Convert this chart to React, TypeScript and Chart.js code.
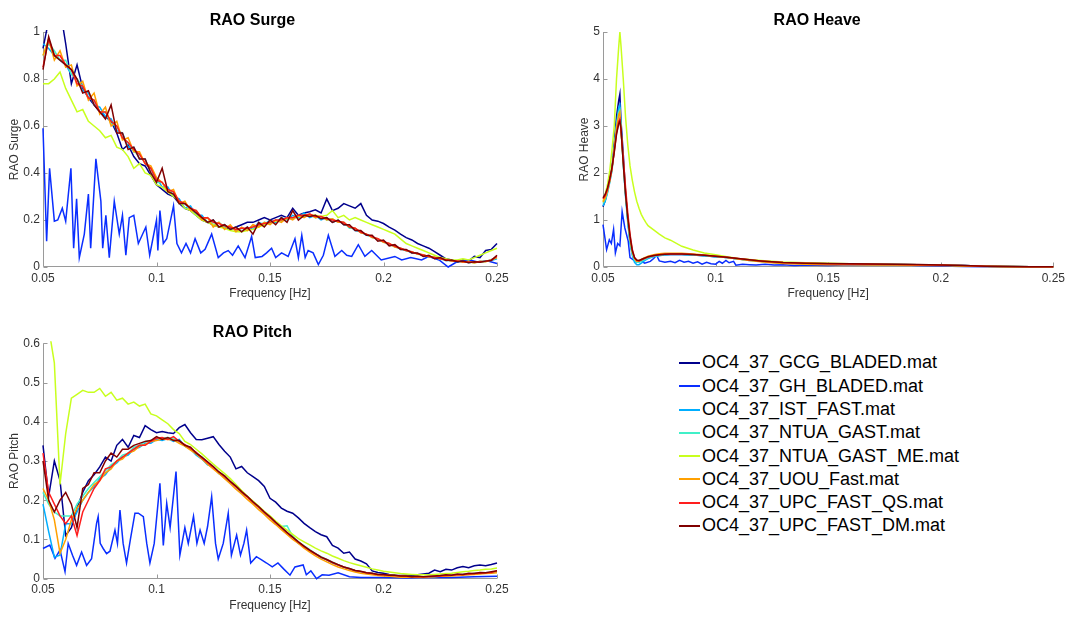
import React, { useEffect, useRef } from "react";
import { Chart, registerables } from "chart.js";

Chart.register(...registerables);
Chart.defaults.font.family = '"Liberation Sans", Arial, sans-serif';

// ---------------- shared labels ----------------
const seriesNames = [
  "OC4_37_GCG_BLADED.mat",
  "OC4_37_GH_BLADED.mat",
  "OC4_37_IST_FAST.mat",
  "OC4_37_NTUA_GAST.mat",
  "OC4_37_NTUA_GAST_ME.mat",
  "OC4_37_UOU_Fast.mat",
  "OC4_37_UPC_FAST_QS.mat",
  "OC4_37_UPC_FAST_DM.mat",
];
const seriesColors = ["#00008C", "#0A2EFF", "#00AEFF", "#40F0C8", "#C8FF1E", "#FFA000", "#FF1E1E", "#800000"];

const xTicks = [0.05, 0.1, 0.15, 0.2, 0.25];
const xTickLabels = ["0.05", "0.1", "0.15", "0.2", "0.25"];
const surgeYTicks = [0, 0.2, 0.4, 0.6, 0.8, 1];
const surgeYTickLabels = ["0", "0.2", "0.4", "0.6", "0.8", "1"];
const heaveYTicks = [0, 1, 2, 3, 4, 5];
const heaveYTickLabels = ["0", "1", "2", "3", "4", "5"];
const pitchYTicks = [0, 0.1, 0.2, 0.3, 0.4, 0.5, 0.6];
const pitchYTickLabels = ["0", "0.1", "0.2", "0.3", "0.4", "0.5", "0.6"];

// ---------------- frequency grids ----------------
const freq = [
  0.05, 0.0525, 0.055, 0.0575, 0.06, 0.0625, 0.065, 0.0675, 0.07, 0.0725,
  0.075, 0.0775, 0.08, 0.0825, 0.085, 0.0875, 0.09, 0.0925, 0.095, 0.0975,
  0.1, 0.1025, 0.105, 0.1075, 0.11, 0.1125, 0.115, 0.1175, 0.12, 0.1225,
  0.125, 0.1275, 0.13, 0.1325, 0.135, 0.1375, 0.14, 0.1425, 0.145, 0.1475,
  0.15, 0.1525, 0.155, 0.1575, 0.16, 0.1625, 0.165, 0.1675, 0.17, 0.1725,
  0.175, 0.1775, 0.18, 0.1825, 0.185, 0.1875, 0.19, 0.1925, 0.195, 0.1975,
  0.2, 0.2025, 0.205, 0.2075, 0.21, 0.2125, 0.215, 0.2175, 0.22, 0.2225,
  0.225, 0.2275, 0.23, 0.2325, 0.235, 0.2375, 0.24, 0.2425, 0.245, 0.2475,
  0.25,
];
const heaveFreq = [
  0.05, 0.051, 0.052, 0.053, 0.054, 0.055, 0.056, 0.057, 0.0575, 0.058,
  0.059, 0.06, 0.061, 0.062, 0.063, 0.064, 0.065, 0.066, 0.067, 0.068,
  0.069, 0.07, 0.0725, 0.075, 0.0775, 0.08, 0.085, 0.09, 0.095, 0.1,
  0.105, 0.11, 0.115, 0.12, 0.125, 0.13, 0.14, 0.15, 0.16, 0.17,
  0.18, 0.19, 0.2, 0.21, 0.22, 0.23, 0.24, 0.25,
];

// ---------------- RAO Surge ----------------
const surgeGCG = [
  0.93, 1.05, 1.08, 1.1, 0.95, 0.78, 0.86, 0.76, 0.72, 0.69,
  0.66, 0.64, 0.62, 0.57, 0.5, 0.52, 0.47, 0.44, 0.43, 0.39,
  0.35, 0.33, 0.31, 0.3, 0.27, 0.25, 0.24, 0.22, 0.2, 0.19,
  0.18, 0.17, 0.17, 0.16, 0.17, 0.18, 0.19, 0.19, 0.2, 0.21,
  0.2, 0.21, 0.22, 0.21, 0.25, 0.22, 0.23, 0.235, 0.243, 0.23,
  0.29, 0.24, 0.25, 0.27, 0.26, 0.25, 0.27, 0.22, 0.2, 0.195,
  0.185, 0.17, 0.157, 0.14, 0.125, 0.115, 0.1, 0.09, 0.08, 0.065,
  0.05, 0.035, 0.03, 0.02, 0.03, 0.025, 0.045, 0.04, 0.07, 0.075,
  0.1,
];
const surgeGHFreq = [
  0.05, 0.0516, 0.0529, 0.055, 0.0565, 0.0585, 0.06, 0.0623, 0.0635, 0.0648,
  0.066, 0.0682, 0.07, 0.071, 0.0733, 0.0755, 0.0763, 0.0777, 0.0792, 0.0814,
  0.0836, 0.085, 0.0865, 0.088, 0.09, 0.092, 0.0953, 0.097, 0.1, 0.1006,
  0.1015, 0.103, 0.1045, 0.1075, 0.109, 0.111, 0.113, 0.115, 0.117, 0.1195,
  0.1214, 0.1243, 0.1272, 0.1295, 0.1316, 0.1335, 0.136, 0.139, 0.1419, 0.1435,
  0.1465, 0.1485, 0.1507, 0.1525, 0.1551, 0.158, 0.161, 0.1625, 0.164, 0.1655,
  0.1668, 0.169, 0.1713, 0.1735, 0.1757, 0.1786, 0.1816, 0.1838, 0.186, 0.1889,
  0.1918, 0.1948, 0.199, 0.205, 0.208, 0.212, 0.2168, 0.22, 0.2245, 0.2285,
  0.232, 0.2344, 0.238, 0.242, 0.246, 0.25,
];
const surgeGH = [
  0.59, 0.11, 0.42, 0.195, 0.2, 0.25, 0.195, 0.42, 0.08, 0.29,
  0.04, 0.14, 0.31, 0.08, 0.46, 0.28, 0.08, 0.22, 0.04, 0.28,
  0.14, 0.22, 0.05, 0.21, 0.22, 0.1, 0.17, 0.05, 0.2, 0.07,
  0.24, 0.1, 0.12, 0.26, 0.1, 0.06, 0.1, 0.06, 0.12, 0.06,
  0.075, 0.14, 0.04, 0.06, 0.07, 0.05, 0.09, 0.04, 0.13, 0.04,
  0.045, 0.06, 0.08, 0.04, 0.06, 0.045, 0.12, 0.04, 0.135, 0.04,
  0.07, 0.06, 0.01, 0.05, 0.135, 0.045, 0.07, 0.05, 0.045, 0.095,
  0.045, 0.07, 0.03, 0.045, 0.03, 0.04, 0.03, 0.045, 0.03, 0.0,
  0.02, 0.025, 0.03, 0.02, 0.025, 0.015,
];
const surgeIST = [
  0.95, 0.93, 0.9, 0.88, 0.86, 0.82, 0.8, 0.75, 0.74, 0.69,
  0.68, 0.64, 0.63, 0.58, 0.57, 0.51, 0.51, 0.46, 0.46, 0.4,
  0.38, 0.34, 0.34, 0.3, 0.29, 0.25, 0.26, 0.22, 0.22, 0.19,
  0.2, 0.17, 0.18, 0.16, 0.17, 0.15, 0.17, 0.16, 0.19, 0.18,
  0.2, 0.19, 0.21, 0.2, 0.22, 0.21, 0.23, 0.21, 0.22, 0.2,
  0.21, 0.19, 0.2, 0.18, 0.175, 0.155, 0.15, 0.135, 0.13, 0.115,
  0.11, 0.095, 0.09, 0.075, 0.072, 0.06, 0.058, 0.048, 0.046, 0.038,
  0.036, 0.028, 0.028, 0.022, 0.024, 0.018, 0.022, 0.02, 0.027, 0.028,
  0.035,
];
const surgeNTUA = [
  0.9, 0.95, 0.92, 0.88, 0.88, 0.82, 0.8, 0.77, 0.72, 0.71,
  0.66, 0.66, 0.61, 0.6, 0.55, 0.53, 0.49, 0.48, 0.44, 0.42,
  0.36, 0.36, 0.32, 0.32, 0.27, 0.27, 0.24, 0.24, 0.2, 0.21,
  0.18, 0.19, 0.17, 0.17, 0.155, 0.165, 0.16, 0.175, 0.175, 0.19,
  0.185, 0.2, 0.195, 0.21, 0.205, 0.22, 0.215, 0.225, 0.21, 0.215,
  0.2, 0.205, 0.19, 0.19, 0.165, 0.165, 0.145, 0.14, 0.125, 0.12,
  0.105, 0.1, 0.085, 0.08, 0.068, 0.065, 0.054, 0.052, 0.043, 0.042,
  0.033, 0.032, 0.025, 0.026, 0.02, 0.022, 0.018, 0.024, 0.023, 0.032,
  0.038,
];
const surgeME = [
  0.78, 0.78, 0.8, 0.83, 0.76, 0.71, 0.66, 0.67, 0.62, 0.6,
  0.58, 0.55, 0.56, 0.51, 0.5, 0.47, 0.42, 0.44, 0.4, 0.39,
  0.35, 0.34, 0.32, 0.3, 0.28, 0.25, 0.24, 0.22, 0.2, 0.19,
  0.18, 0.17, 0.165, 0.155, 0.15, 0.15, 0.155, 0.16, 0.17, 0.18,
  0.19, 0.195, 0.2, 0.205, 0.21, 0.215, 0.22, 0.22, 0.22, 0.215,
  0.22, 0.24, 0.21, 0.22, 0.2, 0.21, 0.2, 0.19, 0.18, 0.17,
  0.16, 0.15, 0.14, 0.12, 0.1, 0.09, 0.08, 0.07, 0.06, 0.05,
  0.04, 0.035, 0.03, 0.03, 0.035, 0.03, 0.04, 0.05, 0.06, 0.07,
  0.08,
];
const surgeUOU = [
  0.9, 0.97, 0.88, 0.92, 0.85, 0.86, 0.77, 0.79, 0.71, 0.74,
  0.65, 0.68, 0.6, 0.62, 0.54, 0.55, 0.49, 0.49, 0.44, 0.43,
  0.38, 0.36, 0.32, 0.33, 0.27, 0.28, 0.24, 0.24, 0.2, 0.21,
  0.17, 0.19, 0.16, 0.18, 0.15, 0.17, 0.155, 0.18, 0.17, 0.19,
  0.18, 0.2, 0.19, 0.21, 0.2, 0.22, 0.21, 0.225, 0.21, 0.215,
  0.2, 0.205, 0.19, 0.19, 0.17, 0.165, 0.145, 0.14, 0.125, 0.12,
  0.105, 0.1, 0.085, 0.08, 0.07, 0.065, 0.055, 0.052, 0.044, 0.042,
  0.034, 0.031, 0.026, 0.026, 0.02, 0.022, 0.017, 0.023, 0.022, 0.03,
  0.04,
];
const surgeQS = [
  0.85, 0.97, 0.9, 0.9, 0.86, 0.84, 0.78, 0.77, 0.72, 0.71,
  0.66, 0.66, 0.62, 0.6, 0.55, 0.53, 0.5, 0.48, 0.44, 0.42,
  0.37, 0.36, 0.33, 0.32, 0.28, 0.27, 0.25, 0.24, 0.21, 0.21,
  0.19, 0.185, 0.175, 0.17, 0.16, 0.165, 0.165, 0.17, 0.18, 0.185,
  0.19, 0.2, 0.2, 0.21, 0.21, 0.22, 0.22, 0.225, 0.215, 0.215,
  0.205, 0.2, 0.195, 0.19, 0.17, 0.165, 0.148, 0.14, 0.128, 0.12,
  0.108, 0.1, 0.088, 0.08, 0.07, 0.064, 0.056, 0.051, 0.045, 0.04,
  0.035, 0.031, 0.027, 0.026, 0.022, 0.021, 0.02, 0.023, 0.025, 0.03,
  0.045,
];
const surgeDM = [
  0.84, 0.98, 0.9, 0.88, 0.86, 0.84, 0.8, 0.74, 0.75, 0.69,
  0.66, 0.63, 0.69, 0.57, 0.57, 0.5, 0.51, 0.46, 0.46, 0.4,
  0.36, 0.42, 0.32, 0.31, 0.27, 0.27, 0.25, 0.23, 0.21, 0.19,
  0.2, 0.17, 0.18, 0.16, 0.17, 0.15, 0.17, 0.14, 0.19, 0.17,
  0.2, 0.18, 0.21, 0.19, 0.24, 0.2, 0.22, 0.215, 0.22, 0.205,
  0.21, 0.19, 0.2, 0.18, 0.18, 0.155, 0.155, 0.135, 0.135, 0.11,
  0.115, 0.09, 0.095, 0.075, 0.075, 0.06, 0.06, 0.045, 0.05, 0.035,
  0.04, 0.028, 0.03, 0.022, 0.025, 0.018, 0.022, 0.02, 0.025, 0.028,
  0.05,
];

// ---------------- RAO Heave ----------------
const heaveGCG = [
  1.28, 1.42, 1.62, 1.85, 2.1, 2.65, 3.2, 3.55, 3.68, 3.1,
  2.4, 1.6, 1.0, 0.55, 0.3, 0.16, 0.12, 0.11, 0.13, 0.15,
  0.18, 0.2, 0.23, 0.25, 0.26, 0.265, 0.265, 0.255, 0.24, 0.22,
  0.2, 0.17, 0.15, 0.12, 0.1, 0.09, 0.08, 0.07, 0.065, 0.06,
  0.055, 0.05, 0.04, 0.03, 0.015, 0.01, 0.005, 0.005,
];
const heaveGHFreq = [
  0.05, 0.0516, 0.0528, 0.0537, 0.0547, 0.0555, 0.0565, 0.0575, 0.0585, 0.0597,
  0.0612, 0.062, 0.0635, 0.065, 0.0665, 0.0685, 0.071, 0.0725, 0.0738, 0.075,
  0.0775, 0.08, 0.082, 0.084, 0.086, 0.088, 0.09, 0.092, 0.094, 0.096,
  0.098, 0.1, 0.1016, 0.103, 0.1046, 0.106, 0.108, 0.109, 0.112, 0.115,
  0.118, 0.122, 0.126, 0.13, 0.135, 0.14, 0.15, 0.16, 0.17, 0.18,
  0.19, 0.2, 0.21, 0.22, 0.25,
];
const heaveGH = [
  0.9, 0.37, 0.58, 0.5, 0.8, 0.3, 0.5, 0.45, 1.18, 0.83,
  0.55, 0.2, 0.15, 0.1, 0.14, 0.08, 0.12, 0.18, 0.25, 0.13,
  0.1, 0.12, 0.09, 0.14, 0.1, 0.12, 0.08, 0.11, 0.06, 0.1,
  0.07, 0.06, 0.12, 0.08, 0.14, 0.09, 0.12, 0.04, 0.06, 0.05,
  0.04, 0.06, 0.04, 0.05, 0.03, 0.04, 0.03, 0.05, 0.04, 0.05,
  0.03, 0.02, 0.01, 0.005, 0.005,
];
const heaveIST = [
  1.3, 1.4, 1.58, 1.8, 2.05, 2.55, 3.05, 3.4, 3.45, 3.0,
  2.2, 1.5, 0.95, 0.5, 0.25, 0.1, 0.05, 0.05, 0.08, 0.12,
  0.15, 0.18, 0.22, 0.24, 0.26, 0.265, 0.265, 0.255, 0.24, 0.22,
  0.2, 0.17, 0.14, 0.12, 0.1, 0.09, 0.075, 0.07, 0.065, 0.06,
  0.055, 0.05, 0.04, 0.03, 0.015, 0.01, 0.005, 0.005,
];
const heaveNTUA = [
  1.35, 1.45, 1.6, 1.82, 2.08, 2.5, 3.0, 3.3, 3.35, 2.95,
  2.2, 1.55, 1.0, 0.55, 0.28, 0.15, 0.1, 0.1, 0.12, 0.15,
  0.17, 0.2, 0.23, 0.25, 0.265, 0.27, 0.27, 0.26, 0.245, 0.225,
  0.2, 0.17, 0.15, 0.12, 0.1, 0.09, 0.08, 0.07, 0.065, 0.06,
  0.055, 0.05, 0.04, 0.03, 0.015, 0.01, 0.005, 0.005,
];
const heaveME = [
  1.4, 1.55, 1.75, 2.05, 2.5, 3.0, 4.0, 4.7, 5.0, 4.7,
  4.0, 3.2, 2.6, 2.15, 1.85, 1.6, 1.4, 1.25, 1.12, 1.03,
  0.95, 0.88, 0.79, 0.7, 0.62, 0.57, 0.44, 0.36, 0.3, 0.26,
  0.22, 0.18, 0.16, 0.14, 0.12, 0.105, 0.09, 0.08, 0.07, 0.06,
  0.055, 0.05, 0.04, 0.025, 0.015, 0.01, 0.005, 0.005,
];
const heaveUOU = [
  1.38, 1.47, 1.62, 1.83, 2.08, 2.5, 2.95, 3.25, 3.3, 2.9,
  2.25, 1.6, 1.05, 0.6, 0.32, 0.18, 0.12, 0.13, 0.16, 0.19,
  0.21, 0.23, 0.26, 0.28, 0.29, 0.295, 0.29, 0.275, 0.255, 0.23,
  0.2, 0.17, 0.14, 0.11, 0.09, 0.075, 0.06, 0.05, 0.05, 0.045,
  0.04, 0.035, 0.03, 0.02, 0.01, 0.005, 0.005, 0.005,
];
const heaveQS = [
  1.45, 1.52, 1.65, 1.85, 2.1, 2.45, 2.85, 3.1, 3.15, 2.9,
  2.3, 1.7, 1.15, 0.7, 0.38, 0.2, 0.14, 0.13, 0.15, 0.17,
  0.19, 0.21, 0.24, 0.26, 0.27, 0.275, 0.275, 0.265, 0.25, 0.23,
  0.205, 0.18, 0.155, 0.13, 0.11, 0.095, 0.08, 0.07, 0.065, 0.06,
  0.055, 0.05, 0.04, 0.03, 0.015, 0.01, 0.005, 0.005,
];
const heaveDM = [
  1.47, 1.55, 1.68, 1.88, 2.12, 2.45, 2.82, 3.05, 3.1, 2.95,
  2.2, 1.55, 1.05, 0.65, 0.35, 0.2, 0.15, 0.14, 0.16, 0.18,
  0.2, 0.22, 0.245, 0.26, 0.27, 0.275, 0.275, 0.265, 0.25, 0.23,
  0.205, 0.18, 0.155, 0.13, 0.11, 0.095, 0.08, 0.075, 0.07, 0.065,
  0.06, 0.055, 0.045, 0.03, 0.015, 0.01, 0.005, 0.005,
];

// ---------------- RAO Pitch ----------------
const pitchGCG = [
  0.34, 0.21, 0.3, 0.25, 0.11, 0.13, 0.18, 0.22, 0.25, 0.265,
  0.285, 0.31, 0.3, 0.34, 0.355, 0.335, 0.365, 0.36, 0.39, 0.38,
  0.372, 0.375, 0.372, 0.37, 0.385, 0.393, 0.372, 0.355, 0.354, 0.358,
  0.362, 0.342, 0.325, 0.31, 0.28, 0.286, 0.27, 0.26, 0.25, 0.235,
  0.205, 0.195, 0.18, 0.172, 0.167, 0.155, 0.141, 0.13, 0.12, 0.112,
  0.107, 0.085, 0.078, 0.065, 0.068, 0.05, 0.045, 0.038, 0.02, 0.016,
  0.014, 0.011, 0.009, 0.008, 0.009, 0.008, 0.01, 0.012, 0.014, 0.022,
  0.018, 0.024, 0.022, 0.028, 0.031, 0.028, 0.033, 0.035, 0.033, 0.036,
  0.04,
];
const pitchGHFreq = [
  0.05, 0.053, 0.0553, 0.0575, 0.0597, 0.0611, 0.063, 0.0648, 0.067, 0.0692,
  0.0714, 0.0736, 0.0743, 0.0752, 0.0765, 0.078, 0.0795, 0.0817, 0.0828, 0.0839,
  0.0853, 0.0868, 0.0885, 0.0905, 0.092, 0.0942, 0.0957, 0.0971, 0.099, 0.1015,
  0.103, 0.1045, 0.106, 0.1086, 0.1103, 0.1125, 0.114, 0.1163, 0.1178, 0.1192,
  0.121, 0.1225, 0.1243, 0.126, 0.1272, 0.1294, 0.1316, 0.133, 0.1353, 0.137,
  0.1385, 0.1397, 0.1415, 0.144, 0.1463, 0.1485, 0.151, 0.1535, 0.156, 0.1588,
  0.161, 0.1646, 0.166, 0.168, 0.1705, 0.173, 0.176, 0.18, 0.185, 0.19,
  0.2, 0.21, 0.22, 0.23, 0.24, 0.25,
];
const pitchGH = [
  0.077, 0.086, 0.052, 0.073, 0.018, 0.09, 0.06, 0.034, 0.068, 0.034,
  0.051, 0.141, 0.158, 0.09, 0.077, 0.064, 0.07, 0.124, 0.09, 0.175,
  0.09, 0.04, 0.1, 0.167, 0.167, 0.158, 0.09, 0.04, 0.09, 0.243,
  0.085, 0.192, 0.13, 0.273, 0.06, 0.13, 0.09, 0.159, 0.09, 0.124,
  0.09, 0.133, 0.209, 0.09, 0.05, 0.09, 0.167, 0.06, 0.111, 0.06,
  0.09, 0.124, 0.04, 0.056, 0.048, 0.04, 0.03, 0.04, 0.025, 0.009,
  0.03, 0.035, 0.01, 0.02, 0.0, 0.01, 0.009, 0.015, 0.005, 0.003,
  0.003, 0.002, 0.004, 0.003, 0.005, 0.006,
];
const pitchIST = [
  0.19, 0.12, 0.055, 0.06, 0.14, 0.14, 0.17, 0.2, 0.22, 0.235,
  0.255, 0.265, 0.285, 0.295, 0.31, 0.315, 0.33, 0.335, 0.345, 0.345,
  0.355, 0.352, 0.357, 0.35, 0.355, 0.338, 0.33, 0.315, 0.305, 0.29,
  0.285, 0.268, 0.26, 0.245, 0.235, 0.218, 0.21, 0.192, 0.183, 0.166,
  0.157, 0.14, 0.13, 0.114, 0.106, 0.09, 0.083, 0.07, 0.064, 0.053,
  0.048, 0.04, 0.035, 0.029, 0.025, 0.02, 0.018, 0.014, 0.013, 0.01,
  0.01, 0.008, 0.008, 0.006, 0.006, 0.004, 0.005, 0.004, 0.005, 0.005,
  0.007, 0.007, 0.009, 0.009, 0.011, 0.011, 0.013, 0.013, 0.015, 0.015,
  0.017,
];
const pitchNTUA = [
  0.22, 0.19, 0.17, 0.16, 0.16, 0.16, 0.19, 0.21, 0.23, 0.245,
  0.26, 0.275, 0.29, 0.3, 0.315, 0.32, 0.335, 0.34, 0.35, 0.352,
  0.36, 0.358, 0.36, 0.356, 0.35, 0.34, 0.332, 0.32, 0.31, 0.296,
  0.286, 0.272, 0.262, 0.246, 0.236, 0.22, 0.21, 0.194, 0.184, 0.168,
  0.158, 0.142, 0.133, 0.135, 0.108, 0.094, 0.084, 0.074, 0.064, 0.056,
  0.049, 0.042, 0.036, 0.03, 0.026, 0.021, 0.018, 0.015, 0.013, 0.011,
  0.01, 0.009, 0.008, 0.007, 0.006, 0.005, 0.005, 0.005, 0.005, 0.006,
  0.007, 0.008, 0.009, 0.01, 0.011, 0.012, 0.013, 0.014, 0.015, 0.016,
  0.017,
];
const pitchME = [
  0.72, 0.64, 0.55, 0.24, 0.37, 0.46, 0.47, 0.48, 0.475, 0.475,
  0.485, 0.465, 0.475, 0.455, 0.46, 0.445, 0.45, 0.44, 0.445, 0.42,
  0.415, 0.405, 0.395, 0.38, 0.37, 0.35, 0.342, 0.33, 0.318, 0.305,
  0.292, 0.28, 0.268, 0.255, 0.24, 0.225, 0.21, 0.198, 0.185, 0.172,
  0.16, 0.147, 0.135, 0.124, 0.113, 0.102, 0.094, 0.086, 0.078, 0.071,
  0.065, 0.058, 0.052, 0.046, 0.041, 0.037, 0.033, 0.029, 0.025, 0.022,
  0.019, 0.017, 0.015, 0.013, 0.012, 0.011, 0.01, 0.01, 0.01, 0.011,
  0.012, 0.013, 0.014, 0.016, 0.018, 0.019, 0.021, 0.022, 0.024, 0.025,
  0.027,
];
const pitchUOU = [
  0.23, 0.2, 0.15, 0.065, 0.1, 0.15, 0.18, 0.2, 0.22, 0.24,
  0.25, 0.27, 0.28, 0.3, 0.305, 0.32, 0.325, 0.338, 0.342, 0.35,
  0.352, 0.356, 0.355, 0.354, 0.345, 0.338, 0.328, 0.318, 0.305, 0.292,
  0.28, 0.268, 0.255, 0.242, 0.228, 0.216, 0.202, 0.19, 0.176, 0.164,
  0.15, 0.138, 0.125, 0.113, 0.1, 0.09, 0.078, 0.068, 0.058, 0.05,
  0.043, 0.036, 0.03, 0.025, 0.021, 0.017, 0.014, 0.012, 0.01, 0.008,
  0.007, 0.006, 0.005, 0.004, 0.004, 0.004, 0.004, 0.004, 0.005, 0.005,
  0.006, 0.006, 0.007, 0.008, 0.009, 0.01, 0.011, 0.012, 0.013, 0.014,
  0.015,
];
const pitchQS = [
  0.32, 0.22, 0.19, 0.16, 0.14, 0.16, 0.11, 0.17, 0.2, 0.23,
  0.25, 0.28, 0.285, 0.3, 0.31, 0.32, 0.33, 0.34, 0.34, 0.35,
  0.358, 0.36, 0.355, 0.362, 0.35, 0.342, 0.332, 0.322, 0.308, 0.296,
  0.284, 0.272, 0.26, 0.247, 0.234, 0.221, 0.208, 0.195, 0.182, 0.169,
  0.156, 0.143, 0.13, 0.117, 0.105, 0.093, 0.082, 0.072, 0.063, 0.055,
  0.048, 0.041, 0.035, 0.03, 0.025, 0.021, 0.018, 0.015, 0.013, 0.011,
  0.01, 0.009, 0.008, 0.007, 0.006, 0.005, 0.005, 0.005, 0.005, 0.006,
  0.007, 0.008, 0.009, 0.01, 0.011, 0.012, 0.013, 0.014, 0.015, 0.016,
  0.02,
];
const pitchDM = [
  0.3, 0.2, 0.17, 0.2, 0.22, 0.19, 0.13, 0.23, 0.24, 0.27,
  0.27, 0.3, 0.32, 0.31, 0.33, 0.33, 0.34, 0.345, 0.35, 0.352,
  0.362, 0.355, 0.36, 0.352, 0.352, 0.34, 0.335, 0.32, 0.31, 0.298,
  0.286, 0.272, 0.262, 0.248, 0.236, 0.222, 0.21, 0.196, 0.184, 0.17,
  0.158, 0.144, 0.131, 0.118, 0.106, 0.094, 0.083, 0.073, 0.064, 0.055,
  0.049, 0.042, 0.036, 0.03, 0.026, 0.021, 0.019, 0.015, 0.014, 0.011,
  0.011, 0.009, 0.009, 0.007, 0.007, 0.005, 0.006, 0.005, 0.006, 0.007,
  0.008, 0.01, 0.009, 0.012, 0.011, 0.014, 0.013, 0.016, 0.015, 0.018,
  0.02,
];

// ---------------- panels ----------------
type Panel = {
  title: string;
  yLabel: string;
  yMax: number;
  yTicks: number[];
  yTickLabels: string[];
  series: [number[], number[]][];
  left: number;
  top: number;
  width: number;
  height: number;
  padLeft: number;
  padRight: number;
  padBottom: number;
  titleTop: number;
  titleBottom: number;
  yWidth: number;
  xHeight: number;
};

const panels: Panel[] = [
  {
    title: "RAO Surge", yLabel: "RAO Surge", yMax: 1, yTicks: surgeYTicks, yTickLabels: surgeYTickLabels,
    series: [[freq, surgeGCG], [surgeGHFreq, surgeGH], [freq, surgeIST], [freq, surgeNTUA], [freq, surgeME], [freq, surgeUOU], [freq, surgeQS], [freq, surgeDM]],
    left: 0, top: 0, width: 520, height: 310, padLeft: 7.8, padRight: 23, padBottom: 8.8,
    titleTop: 10.9, titleBottom: 1.9, yWidth: 35.2, xHeight: 34.2,
  },
  {
    title: "RAO Heave", yLabel: "RAO Heave", yMax: 5, yTicks: heaveYTicks, yTickLabels: heaveYTickLabels,
    series: [[heaveFreq, heaveGCG], [heaveGHFreq, heaveGH], [heaveFreq, heaveIST], [heaveFreq, heaveNTUA], [heaveFreq, heaveME], [heaveFreq, heaveUOU], [heaveFreq, heaveQS], [heaveFreq, heaveDM]],
    left: 560, top: 0, width: 509, height: 310, padLeft: 17.3, padRight: 12, padBottom: 8.8,
    titleTop: 10.9, titleBottom: 1.9, yWidth: 25.7, xHeight: 34.2,
  },
  {
    title: "RAO Pitch", yLabel: "RAO Pitch", yMax: 0.6, yTicks: pitchYTicks, yTickLabels: pitchYTickLabels,
    series: [[freq, pitchGCG], [pitchGHFreq, pitchGH], [freq, pitchIST], [freq, pitchNTUA], [freq, pitchME], [freq, pitchUOU], [freq, pitchQS], [freq, pitchDM]],
    left: 0, top: 310, width: 520, height: 307, padLeft: 7.8, padRight: 23, padBottom: 4.1,
    titleTop: 12.9, titleBottom: 1.2, yWidth: 35.2, xHeight: 34.2,
  },
];

const AXIS_GREY = "#9a9a9a";
const TEXT_GREY = "#333333";

const axesPlugin = {
  id: "matlabAxes",
  beforeDatasetsDraw(chart: any) {
    const { ctx, chartArea: a, scales } = chart;
    const x0 = Math.round(a.left) + 0.5;
    const y0 = Math.round(a.bottom) - 0.5;
    ctx.save();
    ctx.strokeStyle = AXIS_GREY;
    ctx.lineWidth = 1;
    ctx.beginPath();
    ctx.moveTo(x0, a.top);
    ctx.lineTo(x0, y0);
    ctx.lineTo(a.right, y0);
    scales.x.ticks.forEach((t: any) => {
      const px = Math.round(scales.x.getPixelForValue(t.value)) + 0.5;
      ctx.moveTo(px, y0);
      ctx.lineTo(px, y0 - 4);
    });
    scales.y.ticks.forEach((t: any) => {
      const py = Math.round(scales.y.getPixelForValue(t.value)) + 0.5;
      ctx.moveTo(x0, py);
      ctx.lineTo(x0 + 4, py);
    });
    ctx.stroke();
    ctx.restore();
  },
};

function PanelChart({ panel }: { panel: Panel }) {
  const ref = useRef<HTMLCanvasElement | null>(null);
  useEffect(() => {
    if (!ref.current) return;
    const datasets = panel.series.map(([xs, ys], i) => ({
      label: seriesNames[i],
      data: xs.map((x, k) => ({ x, y: ys[k] })),
      borderColor: seriesColors[i],
      backgroundColor: seriesColors[i],
      borderWidth: 1.5,
      pointRadius: 0,
      fill: false,
      tension: 0,
      order: panel.series.length - i,
      clip: 2,
    }));
    const chart = new Chart(ref.current, {
      type: "line",
      data: { datasets },
      plugins: [axesPlugin],
      options: {
        animation: false,
        responsive: false,
        devicePixelRatio: 1,
        events: [],
        layout: { padding: { left: panel.padLeft, right: panel.padRight, top: 0, bottom: panel.padBottom } },
        plugins: {
          legend: { display: false },
          tooltip: { enabled: false },
          title: {
            display: true,
            text: panel.title,
            color: "#000000",
            font: { size: 16, weight: "bold" },
            padding: { top: panel.titleTop, bottom: panel.titleBottom },
          },
        },
        scales: {
          x: {
            type: "linear",
            min: 0.05,
            max: 0.25,
            afterBuildTicks: (s: any) => {
              s.ticks = xTicks.map((v) => ({ value: v }));
            },
            afterFit: (s: any) => {
              s.height = panel.xHeight;
            },
            ticks: {
              callback: (_v: any, i: number) => xTickLabels[i],
              color: TEXT_GREY,
              font: { size: 12 },
              padding: 4,
              maxRotation: 0,
              autoSkip: false,
            },
            grid: { display: false, drawTicks: false },
            border: { display: false },
            title: { display: true, text: "Frequency [Hz]", color: TEXT_GREY, font: { size: 12 }, padding: { top: 0, bottom: 0 } },
          },
          y: {
            type: "linear",
            min: 0,
            max: panel.yMax,
            afterBuildTicks: (s: any) => {
              s.ticks = panel.yTicks.map((v) => ({ value: v }));
            },
            afterFit: (s: any) => {
              s.width = panel.yWidth;
            },
            ticks: {
              callback: (_v: any, i: number) => panel.yTickLabels[i],
              color: TEXT_GREY,
              font: { size: 12 },
              padding: 3,
              autoSkip: false,
            },
            grid: { display: false, drawTicks: false },
            border: { display: false },
            title: { display: true, text: panel.yLabel, color: TEXT_GREY, font: { size: 12 }, padding: { top: 0, bottom: 0 } },
          },
        },
      } as any,
    });
    return () => chart.destroy();
  }, [panel]);
  return (
    <canvas
      ref={ref}
      width={panel.width}
      height={panel.height}
      style={{ position: "absolute", left: panel.left, top: panel.top, width: panel.width, height: panel.height }}
    />
  );
}

function Legend() {
  const rowH = 23.3;
  return (
    <div style={{ position: "absolute", left: 679, top: 363 - rowH / 2 }}>
      {seriesNames.map((name, i) => (
        <div key={name} style={{ display: "flex", alignItems: "center", height: rowH }}>
          <div style={{ width: 21, height: 2, background: seriesColors[i] }} />
          <span
            style={{
              marginLeft: 2,
              fontFamily: '"Liberation Sans", Arial, sans-serif',
              fontSize: 18,
              color: "#000",
              whiteSpace: "nowrap",
              lineHeight: `${rowH}px`,
            }}
          >
            {name}
          </span>
        </div>
      ))}
    </div>
  );
}

export default function App() {
  return (
    <div style={{ position: "fixed", left: 0, top: 0, width: 1069, height: 617, background: "#ffffff", overflow: "hidden" }}>
      {panels.map((p) => (
        <PanelChart key={p.title} panel={p} />
      ))}
      <Legend />
    </div>
  );
}
